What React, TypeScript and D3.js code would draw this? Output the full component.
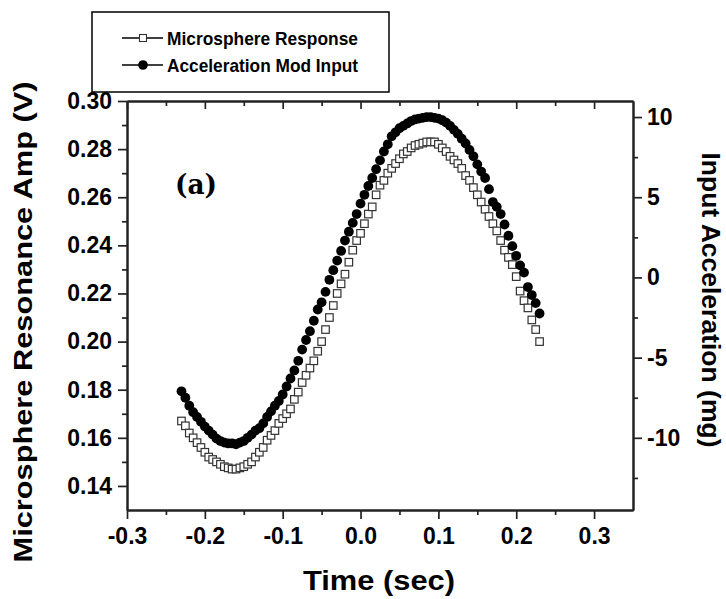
import React, { useEffect, useRef } from 'react';
import * as d3 from 'd3';

// time (sec)
const times = [
  -0.230, -0.225, -0.220, -0.215, -0.210, -0.205, -0.200, -0.195, -0.190, -0.185,
  -0.180, -0.175, -0.170, -0.165, -0.160, -0.155, -0.150, -0.145, -0.140, -0.135,
  -0.130, -0.125, -0.120, -0.115, -0.110, -0.105, -0.100, -0.095, -0.090, -0.085,
  -0.080, -0.075, -0.070, -0.065, -0.060, -0.055, -0.050, -0.045, -0.040, -0.035,
  -0.030, -0.025, -0.020, -0.015, -0.010, -0.005, 0.000, 0.005, 0.010, 0.015,
  0.020, 0.025, 0.030, 0.035, 0.040, 0.045, 0.050, 0.055, 0.060, 0.065,
  0.070, 0.075, 0.080, 0.085, 0.090, 0.095, 0.100, 0.105, 0.110, 0.115,
  0.120, 0.125, 0.130, 0.135, 0.140, 0.145, 0.150, 0.155, 0.160, 0.165,
  0.170, 0.175, 0.180, 0.185, 0.190, 0.195, 0.200, 0.205, 0.210, 0.215,
  0.220, 0.225, 0.230,
];

// microsphere resonance amplitude (V), left axis
const microsphere = [
  0.167, 0.165, 0.162, 0.160, 0.158, 0.156, 0.154, 0.152, 0.151, 0.150,
  0.149, 0.148, 0.1475, 0.147, 0.147, 0.1475, 0.148, 0.149, 0.150, 0.152,
  0.154, 0.156, 0.159, 0.161, 0.163, 0.166, 0.168, 0.170, 0.172, 0.176,
  0.179, 0.183, 0.186, 0.189, 0.192, 0.196, 0.200, 0.205, 0.210, 0.215,
  0.220, 0.224, 0.228, 0.233, 0.238, 0.242, 0.245, 0.249, 0.253, 0.256,
  0.261, 0.265, 0.267, 0.270, 0.272, 0.274, 0.276, 0.278, 0.279, 0.2805,
  0.2815, 0.282, 0.2825, 0.283, 0.283, 0.283, 0.282, 0.2805, 0.279, 0.277,
  0.2755, 0.274, 0.272, 0.269, 0.267, 0.264, 0.261, 0.258, 0.255, 0.252,
  0.249, 0.246, 0.242, 0.238, 0.235, 0.232, 0.227, 0.221, 0.217, 0.214,
  0.209, 0.205, 0.200,
];

// input acceleration (mg), right axis
const acceleration = [
  -7.1, -7.5, -8.0, -8.4, -8.7, -9.0, -9.3, -9.55, -9.8, -10.05,
  -10.2, -10.3, -10.35, -10.35, -10.4, -10.3, -10.2, -10.0, -9.8, -9.55,
  -9.4, -9.1, -8.7, -8.35, -8.0, -7.7, -7.3, -6.8, -6.3, -5.8,
  -5.2, -4.5, -3.9, -3.35, -2.7, -2.0, -1.55, -0.9, -0.15, 0.45,
  1.05, 1.65, 2.3, 2.85, 3.4, 3.95, 4.6, 5.15, 5.7, 6.2,
  6.75, 7.3, 7.85, 8.3, 8.8, 9.05, 9.3, 9.45, 9.6, 9.75,
  9.85, 9.9, 9.95, 10.0, 10.0, 9.95, 9.9, 9.8, 9.65, 9.45,
  9.2, 8.95, 8.65, 8.35, 7.95, 7.55, 7.05, 6.6, 6.2, 5.5,
  4.7, 4.4, 3.95, 3.3, 2.6, 1.95, 1.35, 0.75, 0.3, -0.6,
  -1.1, -1.6, -2.25,
];

const xTicks = [-0.3, -0.2, -0.1, 0.0, 0.1, 0.2, 0.3];
const xMinor = [-0.25, -0.15, -0.05, 0.05, 0.15, 0.25];
const leftTicks = [0.14, 0.16, 0.18, 0.20, 0.22, 0.24, 0.26, 0.28, 0.30];
const leftMinor = [0.15, 0.17, 0.19, 0.21, 0.23, 0.25, 0.27, 0.29];
const rightTicks = [-10, -5, 0, 5, 10];
const rightMinor = [-12.5, -7.5, -2.5, 2.5, 7.5];
const seriesNames = ['Microsphere Response', 'Acceleration Mod Input'];

const FONT = '"Liberation Sans", Arial, sans-serif';

export default function App() {
  const svgRef = useRef<SVGSVGElement>(null);

  useEffect(() => {
    const svg = d3.select(svgRef.current);
    svg.selectAll('*').remove();

    const left = 127, right = 633, top = 101, bottom = 510;

    const x = d3.scaleLinear().domain([-0.3, 0.35]).range([left, right]);
    const yL = d3.scaleLinear().domain([0.13, 0.30]).range([bottom, top]);
    const yR = d3.scaleLinear().domain([-14.5, 11]).range([bottom, top]);

    const styleAxis = (g) => {
      g.attr('font-family', FONT).attr('font-size', 23).attr('font-weight', 'bold');
      g.select('.domain').attr('stroke', '#222').attr('stroke-width', 2);
      g.selectAll('.tick line').attr('stroke', '#222').attr('stroke-width', 1.7);
      g.selectAll('.tick text').attr('fill', '#000');
    };

    // bottom axis
    svg.append('g')
      .attr('transform', `translate(0,${bottom})`)
      .call(d3.axisBottom(x).tickValues(xMinor).tickSize(5).tickSizeOuter(0).tickFormat(() => ''))
      .call(styleAxis);
    svg.append('g')
      .attr('transform', `translate(0,${bottom})`)
      .call(d3.axisBottom(x).tickValues(xTicks).tickSize(9).tickSizeOuter(0).tickPadding(9)
        .tickFormat(d => (+d).toFixed(1)))
      .call(styleAxis);

    // top axis, ticks pointing in
    svg.append('g')
      .attr('transform', `translate(0,${top})`)
      .call(d3.axisBottom(x).tickValues(xMinor).tickSize(5).tickSizeOuter(0).tickFormat(() => ''))
      .call(styleAxis);
    svg.append('g')
      .attr('transform', `translate(0,${top})`)
      .call(d3.axisBottom(x).tickValues(xTicks).tickSize(8).tickSizeOuter(0).tickFormat(() => ''))
      .call(styleAxis);

    // left axis
    svg.append('g')
      .attr('transform', `translate(${left},0)`)
      .call(d3.axisLeft(yL).tickValues(leftMinor).tickSize(5).tickSizeOuter(0).tickFormat(() => ''))
      .call(styleAxis);
    svg.append('g')
      .attr('transform', `translate(${left},0)`)
      .call(d3.axisLeft(yL).tickValues(leftTicks).tickSize(9).tickSizeOuter(0).tickPadding(6)
        .tickFormat(d => (+d).toFixed(2)))
      .call(styleAxis);

    // right axis
    svg.append('g')
      .attr('transform', `translate(${right},0)`)
      .call(d3.axisRight(yR).tickValues(rightMinor).tickSize(5).tickSizeOuter(0).tickFormat(() => ''))
      .call(styleAxis);
    svg.append('g')
      .attr('transform', `translate(${right},0)`)
      .call(d3.axisRight(yR).tickValues(rightTicks).tickSize(9).tickSizeOuter(0).tickPadding(5)
        .tickFormat(d => String(d).replace('−', '-')))
      .call(styleAxis);

    // axis titles
    svg.append('text')
      .attr('x', 379).attr('y', 590)
      .attr('text-anchor', 'middle')
      .attr('font-family', FONT).attr('font-weight', 'bold').attr('font-size', 27)
      .attr('textLength', 152).attr('lengthAdjust', 'spacingAndGlyphs')
      .text('Time (sec)');

    svg.append('text')
      .attr('transform', 'translate(32,322) rotate(-90)')
      .attr('text-anchor', 'middle')
      .attr('font-family', FONT).attr('font-weight', 'bold').attr('font-size', 26)
      .attr('textLength', 481).attr('lengthAdjust', 'spacingAndGlyphs')
      .text('Microsphere Resonance Amp (V)');

    svg.append('text')
      .attr('transform', 'translate(702,300) rotate(90)')
      .attr('text-anchor', 'middle')
      .attr('font-family', FONT).attr('font-weight', 'bold').attr('font-size', 25)
      .attr('textLength', 295).attr('lengthAdjust', 'spacingAndGlyphs')
      .text('Input Acceleration (mg)');

    // panel label
    svg.append('text')
      .attr('x', 175).attr('y', 194)
      .attr('font-family', '"DejaVu Serif", serif').attr('font-weight', 'bold').attr('font-size', 27)
      .attr('textLength', 42).attr('lengthAdjust', 'spacingAndGlyphs')
      .text('(a)');

    // data: squares first, circles on top
    const sq = 7.5;
    svg.append('g')
      .selectAll('rect')
      .data(times.map((t, i) => ({ t, v: microsphere[i] })))
      .join('rect')
      .attr('x', d => x(d.t) - sq / 2)
      .attr('y', d => yL(d.v) - sq / 2)
      .attr('width', sq).attr('height', sq)
      .attr('fill', '#fff').attr('stroke', '#333').attr('stroke-width', 1.2);

    svg.append('g')
      .selectAll('circle')
      .data(times.map((t, i) => ({ t, a: acceleration[i] })))
      .join('circle')
      .attr('cx', d => x(d.t))
      .attr('cy', d => yR(d.a))
      .attr('r', 4.9)
      .attr('fill', '#000');

    // legend
    const lg = svg.append('g');
    lg.append('rect')
      .attr('x', 92).attr('y', 12).attr('width', 297).attr('height', 80)
      .attr('fill', '#fff').attr('stroke', '#000').attr('stroke-width', 1.5);
    seriesNames.forEach((name, i) => {
      const cy = 38 + i * 27;
      lg.append('line')
        .attr('x1', 122).attr('x2', 163).attr('y1', cy).attr('y2', cy)
        .attr('stroke', '#000').attr('stroke-width', 1.3);
      if (i === 0) {
        lg.append('rect')
          .attr('x', 143 - 3.5).attr('y', cy - 3.5).attr('width', 7).attr('height', 7)
          .attr('fill', '#fff').attr('stroke', '#333').attr('stroke-width', 1.1);
      } else {
        lg.append('circle').attr('cx', 143).attr('cy', cy).attr('r', 4.8).attr('fill', '#000');
      }
      lg.append('text')
        .attr('x', 167).attr('y', cy).attr('dy', '0.36em')
        .attr('font-family', FONT).attr('font-weight', 'bold').attr('font-size', 19)
        .attr('textLength', 191).attr('lengthAdjust', 'spacingAndGlyphs')
        .text(name);
    });
  }, []);

  return (
    <svg
      ref={svgRef}
      width={726}
      height={599}
      style={{ position: 'absolute', left: 0, top: 0, background: '#fff' }}
    />
  );
}
